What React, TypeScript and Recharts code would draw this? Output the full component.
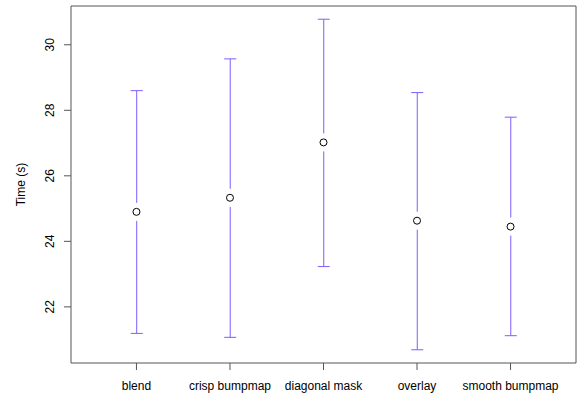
import { ComposedChart, Bar, Scatter, XAxis, YAxis, ReferenceArea } from 'recharts'

const categories = ['blend', 'crisp bumpmap', 'diagonal mask', 'overlay', 'smooth bumpmap']
const means = [24.9, 25.33, 27.02, 24.63, 24.45]
const lows = [21.19, 21.07, 23.23, 20.69, 21.12]
const highs = [28.6, 29.57, 30.78, 28.54, 27.79]
const yTicks = [22, 24, 26, 28, 30]

const FONT = '"Liberation Sans", Arial, Helvetica, sans-serif'
const BAR_COLOR = '#7f5cff'
const AXIS_COLOR = '#555555'

const data = categories.map((name, i) => ({
  pos: i + 1,
  name,
  mean: means[i],
  low: lows[i],
  high: highs[i]
}))

// R-style axis limits: data range plus 4% on each side
const yMin = Math.min(...lows)
const yMax = Math.max(...highs)
const yPad = (yMax - yMin) * 0.04
const yDomain = [yMin - yPad, yMax + yPad]
const xDomain = [0.5 - 0.2, categories.length + 0.5 + 0.2]

const ErrorShape = (props: any) => {
  const { x, y, width, height, payload } = props
  const cx = x + width / 2
  const top = Math.min(y, y + height)
  const bottom = Math.max(y, y + height)
  const ym = top + (bottom - top) * (payload.high - payload.mean) / (payload.high - payload.low)
  const gap = 9
  const cap = 6
  return (
    <g stroke={BAR_COLOR} strokeWidth={1}>
      <line x1={cx} y1={top} x2={cx} y2={ym - gap} />
      <line x1={cx} y1={ym + gap} x2={cx} y2={bottom} />
      <line x1={cx - cap} y1={top} x2={cx + cap} y2={top} />
      <line x1={cx - cap} y1={bottom} x2={cx + cap} y2={bottom} />
    </g>
  )
}

const PointShape = (props: any) => (
  <circle cx={props.cx} cy={props.cy} r={3.5} fill="#ffffff" stroke="#000000" strokeWidth={1} />
)

const XTick = (props: any) => {
  const { x, payload } = props
  return (
    <text x={x} y={390} textAnchor="middle" fontFamily={FONT} fontSize={12} fill="#000">
      {categories[payload.value - 1]}
    </text>
  )
}

const YTick = (props: any) => {
  const { y, payload } = props
  return (
    <text
      x={54}
      y={y}
      textAnchor="middle"
      fontFamily={FONT}
      fontSize={12}
      fill="#000"
      transform={`rotate(-90, 54, ${y})`}
    >
      {payload.value}
    </text>
  )
}

const YTitle = (props: any) => {
  const vb = props.viewBox || {}
  const cy = (vb.y ?? 6) + (vb.height ?? 357) / 2
  return (
    <text
      x={25}
      y={cy}
      textAnchor="middle"
      fontFamily={FONT}
      fontSize={12}
      fill="#000"
      transform={`rotate(-90, 25, ${cy})`}
    >
      Time (s)
    </text>
  )
}

export default function App() {
  return (
    <div style={{ position: 'absolute', left: 0, top: 0, background: '#fff' }}>
      <ComposedChart
        width={584}
        height={394}
        data={data}
        margin={{ top: 6, right: 8, bottom: 0, left: 0 }}
      >
        <XAxis
          dataKey="pos"
          type="number"
          domain={xDomain}
          ticks={[1, 2, 3, 4, 5]}
          height={31}
          axisLine={false}
          tickLine={{ stroke: AXIS_COLOR }}
          tickSize={7}
          tick={<XTick />}
          interval={0}
          allowDataOverflow
        />
        <YAxis
          type="number"
          domain={yDomain}
          ticks={yTicks}
          width={71}
          axisLine={false}
          tickLine={{ stroke: AXIS_COLOR }}
          tickSize={7}
          tick={<YTick />}
          interval={0}
          allowDataOverflow
          label={<YTitle />}
        />
        <ReferenceArea
          x1={xDomain[0]}
          x2={xDomain[1]}
          y1={yDomain[0]}
          y2={yDomain[1]}
          fill="none"
          stroke={AXIS_COLOR}
          strokeWidth={1}
          ifOverflow="visible"
        />
        <Bar
          dataKey={(d: any) => [d.low, d.high]}
          barSize={12}
          shape={<ErrorShape />}
          isAnimationActive={false}
        />
        <Scatter dataKey="mean" shape={<PointShape />} isAnimationActive={false} />
      </ComposedChart>
    </div>
  )
}
